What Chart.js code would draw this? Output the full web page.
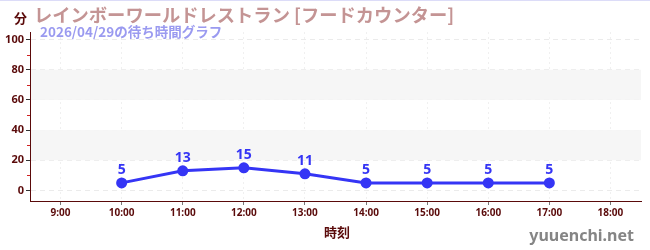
<!DOCTYPE html>
<html>
<head>
<meta charset="utf-8">
<script src="https://cdn.jsdelivr.net/npm/chart.js@4"></script>
<style>
  html, body { margin: 0; padding: 0; background: #fff; }
  #wrap { position: relative; width: 650px; height: 250px; border-top: 1px solid #dcdcf8; box-sizing: border-box; }
</style>
</head>
<body>
<div id="wrap"><canvas id="waitChart" width="650" height="249"></canvas></div>
<script>
const hours = ["9:00", "10:00", "11:00", "12:00", "13:00", "14:00", "15:00", "16:00", "17:00", "18:00"];
const waitMinutes = [null, 5, 13, 15, 11, 5, 5, 5, 5, null];
const yTicks = [0, 20, 40, 60, 80, 100];

const titleText = "レインボーワールドレストラン [フードカウンター]";
const subText = "2026/04/29の待ち時間グラフ";

const axisColor = "#5a0a0a";
const lineColor = "#3535f5";

// bands, minor ticks, point labels and the texts round the chart
const decor = {
    id: "decor",
    beforeDatasetsDraw(chart) {
        const { ctx, chartArea: a, scales: { y } } = chart;
        ctx.save();
        ctx.fillStyle = "#f6f6f6";
        [[20, 40], [60, 80]].forEach(([lo, hi]) => {
            ctx.fillRect(a.left + 1, y.getPixelForValue(hi), a.right - a.left - 1, y.getPixelForValue(lo) - y.getPixelForValue(hi));
        });
        ctx.restore();
    },
    afterDraw(chart) {
        const { ctx, chartArea: a, scales: { x, y } } = chart;
        ctx.save();
        // minor ticks
        ctx.strokeStyle = "#d02020";
        ctx.lineWidth = 1;
        for (let v = 10; v <= 100; v += 20) {
            const py = Math.round(y.getPixelForValue(v)) + 0.5;
            ctx.beginPath();
            ctx.moveTo(a.left - 3, py);
            ctx.lineTo(a.left, py);
            ctx.stroke();
        }
        // value labels
        ctx.fillStyle = lineColor;
        ctx.font = "bold 14px 'Noto Sans', sans-serif";
        ctx.textAlign = "center";
        ctx.textBaseline = "bottom";
        waitMinutes.forEach((v, i) => {
            if (v === null) return;
            ctx.fillText(String(v), x.getPixelForValue(i), y.getPixelForValue(v) - 6);
        });
        // titles
        ctx.textAlign = "left";
        ctx.textBaseline = "alphabetic";
        ctx.fillStyle = axisColor;
        ctx.font = "bold 13px 'Noto Sans CJK JP', sans-serif";
        ctx.fillText("分", 14, 22);
        ctx.fillStyle = "#c49494";
        ctx.font = "bold 18.3px 'Noto Sans CJK JP', sans-serif";
        ctx.fillText(titleText, 34, 21);
        ctx.fillStyle = "#9a9af0";
        ctx.font = "bold 13.5px 'Noto Sans CJK JP', sans-serif";
        ctx.fillText(subText, 40, 36);
        // axis title
        ctx.fillStyle = axisColor;
        ctx.textAlign = "center";
        ctx.font = "bold 13px 'Noto Sans CJK JP', sans-serif";
        ctx.fillText("時刻", 337, 236);
        // site name
        ctx.fillStyle = "#858585";
        ctx.textAlign = "right";
        ctx.font = "bold 16px 'Noto Sans', sans-serif";
        ctx.fillText("yuuenchi.net", 634, 240);
        ctx.restore();
    }
};

new Chart(document.getElementById("waitChart"), {
    type: "line",
    data: {
        labels: hours,
        datasets: [{
            data: waitMinutes,
            borderColor: lineColor,
            backgroundColor: lineColor,
            borderWidth: 3,
            pointRadius: 5.5,
            pointBackgroundColor: lineColor,
            pointBorderWidth: 0,
            tension: 0,
            spanGaps: false
        }]
    },
    options: {
        responsive: false,
        animation: false,
        layout: { padding: { top: 31, right: 9, left: 0, bottom: 0 } },
        plugins: { legend: { display: false }, tooltip: { enabled: false } },
        scales: {
            x: {
                offset: true,
                afterFit: s => { s.height = 49; },
                ticks: {
                    color: axisColor,
                    font: { family: "'Noto Sans', sans-serif", size: 10, weight: "bold" },
                    maxRotation: 0,
                    padding: 2
                },
                grid: {
                    color: "#f0f0f0",
                    tickColor: "#777",
                    tickLength: 4,
                    offset: false,
                    drawOnChartArea: true
                },
                border: { color: axisColor, width: 1, dash: [2, 3] }
            },
            y: {
                min: -7,
                max: 105,
                afterFit: s => { s.width = 30; },
                afterBuildTicks: s => { s.ticks = yTicks.map(v => ({ value: v })); },
                ticks: {
                    color: axisColor,
                    font: { family: "'Noto Sans', sans-serif", size: 11, weight: "bold" },
                    padding: 2
                },
                grid: {
                    color: "#ebebeb",
                    tickColor: "#333",
                    tickLength: 4
                },
                border: { color: axisColor, width: 1, dash: [5, 4] }
            }
        }
    },
    plugins: [decor]
});
</script>
</body>
</html>
